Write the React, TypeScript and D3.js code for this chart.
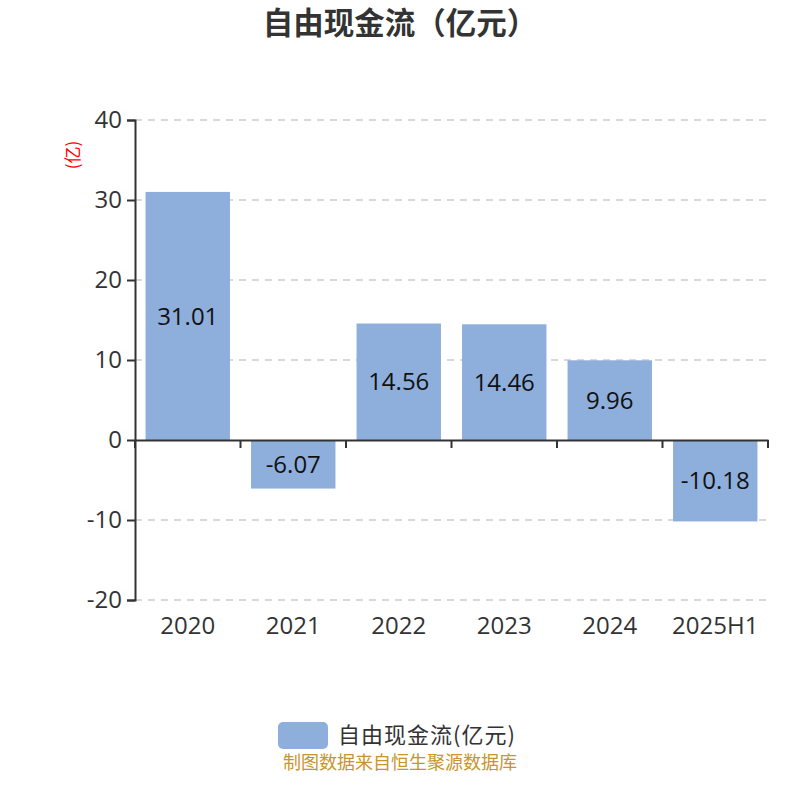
import { useEffect, useRef } from 'react';
import * as d3 from 'd3';

const categories = ['2020', '2021', '2022', '2023', '2024', '2025H1'];
const values = [31.01, -6.07, 14.56, 14.46, 9.96, -10.18];
const yTicks = [-20, -10, 0, 10, 20, 30, 40];

const FONT = '"Open Sans", "Noto Sans CJK SC", sans-serif';
const CJK = '"Noto Sans CJK SC", "Noto Sans", sans-serif';

const App = () => {
  const svgRef = useRef<SVGSVGElement>(null!);

  useEffect(() => {
    const width = 800;
    const height = 800;
    const padding = { left: 135, right: 32, top: 120, bottom: 200 };
    const svg = d3.select(svgRef.current);
    svg.attr('width', width).attr('height', height);

    const x = d3
      .scaleBand()
      .domain(categories)
      .range([padding.left, width - padding.right])
      .paddingInner(0.2)
      .paddingOuter(0.1);
    const xBand = d3
      .scaleBand()
      .domain(categories)
      .range([padding.left, width - padding.right]);
    const y = d3
      .scaleLinear()
      .domain([-20, 40])
      .range([height - padding.bottom, padding.top]);

    // title
    svg
      .append('text')
      .attr('x', width / 2)
      .attr('y', 34)
      .attr('text-anchor', 'middle')
      .attr('font-family', CJK)
      .attr('font-size', 30.5)
      .attr('font-weight', 'bold')
      .attr('fill', '#333')
      .text('自由现金流（亿元）');

    // grid
    svg
      .append('g')
      .selectAll('line')
      .data(yTicks.filter(t => t !== 0))
      .enter()
      .append('line')
      .attr('x1', padding.left)
      .attr('x2', width - padding.right)
      .attr('y1', d => y(d))
      .attr('y2', d => y(d))
      .attr('stroke', '#ccc')
      .attr('stroke-width', 1.5)
      .attr('stroke-dasharray', '7,6');

    // bars
    svg
      .append('g')
      .selectAll('rect')
      .data(values)
      .enter()
      .append('rect')
      .attr('x', (_, i) => x(categories[i])!)
      .attr('width', x.bandwidth())
      .attr('y', d => y(Math.max(0, d)))
      .attr('height', d => Math.abs(y(d) - y(0)))
      .attr('fill', '#8eaedb');

    // bar labels
    svg
      .append('g')
      .selectAll('text')
      .data(values)
      .enter()
      .append('text')
      .attr('x', (_, i) => x(categories[i])! + x.bandwidth() / 2)
      .attr('y', d => (y(d) + y(0)) / 2)
      .attr('dy', '0.36em')
      .attr('text-anchor', 'middle')
      .attr('font-family', FONT)
      .attr('font-size', 24)
      .attr('fill', '#111')
      .text(d => d.toFixed(2));

    // y axis
    const yAxis = d3
      .axisLeft(y)
      .tickValues(yTicks)
      .tickSize(8)
      .tickPadding(5)
      .tickFormat(d => String(d));
    const gy = svg
      .append('g')
      .attr('transform', `translate(${padding.left}, 0)`)
      .call(yAxis);
    gy.select('.domain').attr('stroke', '#333').attr('stroke-width', 2);
    gy.selectAll('.tick line').attr('stroke', '#333').attr('stroke-width', 2);
    gy.selectAll('.tick text')
      .attr('font-family', FONT)
      .attr('font-size', 24)
      .attr('fill', '#333');

    // x axis at zero
    const xAxis = d3.axisBottom(xBand).tickSize(0).tickFormat(() => '');
    const gx = svg
      .append('g')
      .attr('transform', `translate(0, ${y(0)})`)
      .call(xAxis);
    gx.select('.domain').attr('stroke', '#333').attr('stroke-width', 2);
    gx.selectAll('.tick').remove();
    gx.selectAll('line.sep')
      .data(d3.range(categories.length + 1))
      .enter()
      .append('line')
      .attr('class', 'sep')
      .attr('x1', i => padding.left + i * xBand.step())
      .attr('x2', i => padding.left + i * xBand.step())
      .attr('y1', 0)
      .attr('y2', 8)
      .attr('stroke', '#333')
      .attr('stroke-width', 2);

    // category labels at bottom
    svg
      .append('g')
      .selectAll('text')
      .data(categories)
      .enter()
      .append('text')
      .attr('x', d => xBand(d)! + xBand.bandwidth() / 2)
      .attr('y', y(-20) + 34)
      .attr('text-anchor', 'middle')
      .attr('font-family', FONT)
      .attr('font-size', 24)
      .attr('fill', '#333')
      .text(d => d);

    // y unit label
    svg
      .append('text')
      .attr('transform', `translate(79, 155) rotate(-90)`)
      .attr('text-anchor', 'middle')
      .attr('font-family', CJK)
      .attr('font-size', 17)
      .attr('fill', 'red')
      .text('(亿)');

    // legend
    svg
      .append('rect')
      .attr('x', 278)
      .attr('y', 722)
      .attr('width', 50)
      .attr('height', 27)
      .attr('rx', 5)
      .attr('fill', '#8eaedb');
    svg
      .append('text')
      .attr('x', 338)
      .attr('y', 743)
      .attr('font-family', CJK)
      .attr('font-size', 22)
      .attr('letter-spacing', 1)
      .attr('fill', '#333')
      .text('自由现金流(亿元)');

    // source
    svg
      .append('text')
      .attr('x', width / 2)
      .attr('y', 769)
      .attr('text-anchor', 'middle')
      .attr('font-family', CJK)
      .attr('font-size', 18)
      .attr('fill', '#c8952a')
      .text('制图数据来自恒生聚源数据库');

    return () => {
      svgRef.current.innerHTML = '';
    };
  }, []);

  return (
    <svg
      ref={svgRef}
      style={{ position: 'absolute', left: 0, top: 0 }}
    ></svg>
  );
};

export default App;
